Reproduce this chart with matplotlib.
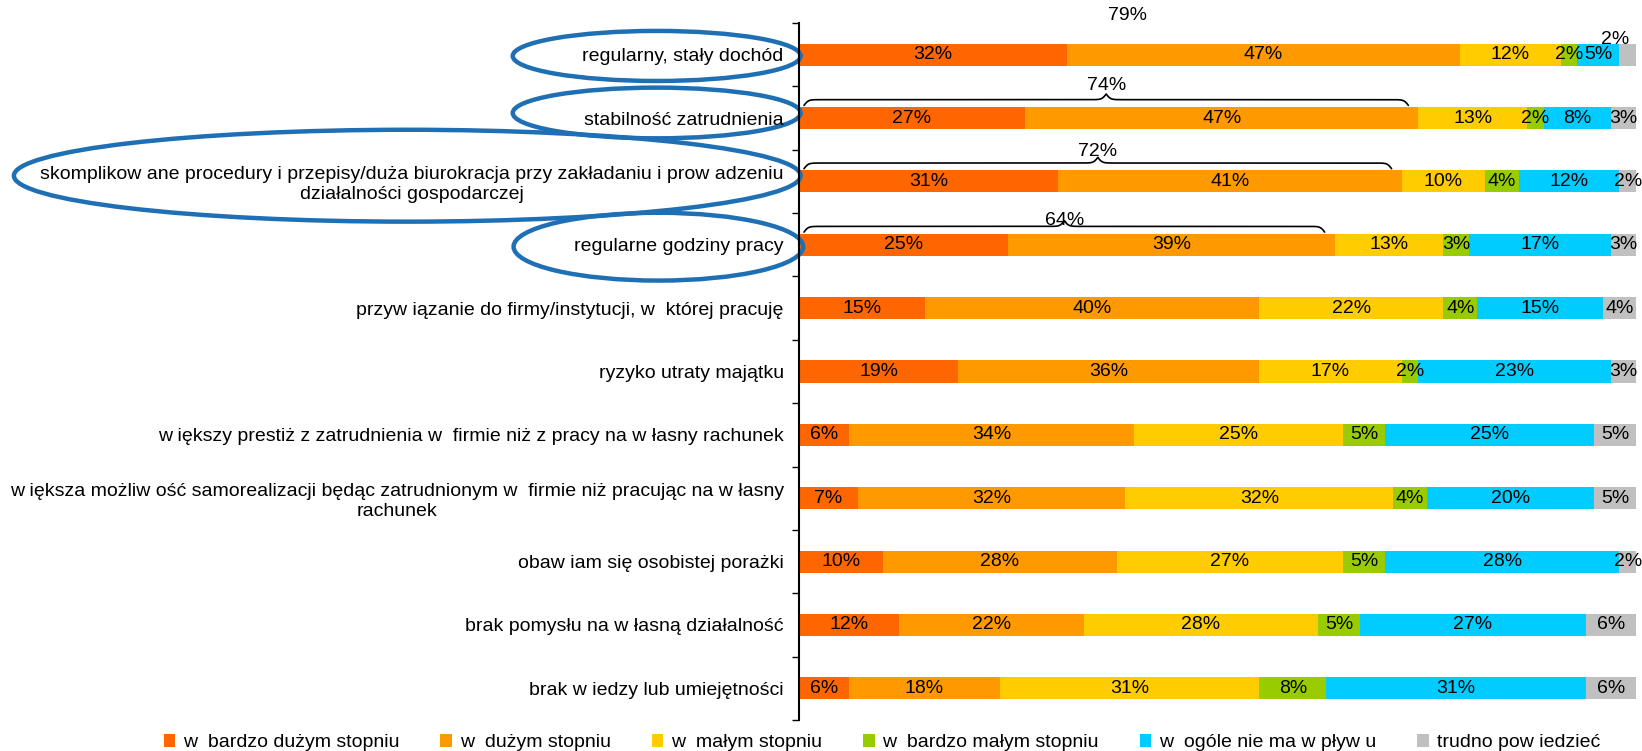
import numpy as np
import matplotlib.pyplot as plt
from matplotlib.patches import Ellipse
from matplotlib.transforms import blended_transform_factory

plt.rcParams['font.family'] = ['Liberation Sans', 'DejaVu Sans']

# ---Data (percent of answers)
categories = [
    'regularny, stały dochód',
    'stabilność zatrudnienia',
    'skomplikow ane procedury i przepisy/duża biurokracja przy zakładaniu i prow adzeniu\ndziałalności gospodarczej',
    'regularne godziny pracy',
    'przyw iązanie do firmy/instytucji, w  której pracuję',
    'ryzyko utraty majątku',
    'w iększy prestiż z zatrudnienia w  firmie niż z pracy na w łasny rachunek',
    'w iększa możliw ość samorealizacji będąc zatrudnionym w  firmie niż pracując na w łasny\nrachunek',
    'obaw iam się osobistej porażki',
    'brak pomysłu na w łasną działalność',
    'brak w iedzy lub umiejętności',
]
series_names = ['w  bardzo dużym stopniu', 'w  dużym stopniu', 'w  małym stopniu',
                'w  bardzo małym stopniu', 'w  ogóle nie ma w pływ u', 'trudno pow iedzieć']
bardzo_duzy = [32, 27, 31, 25, 15, 19, 6, 7, 10, 12, 6]
duzy = [47, 47, 41, 39, 40, 36, 34, 32, 28, 22, 18]
maly = [12, 13, 10, 13, 22, 17, 25, 32, 27, 28, 31]
bardzo_maly = [2, 2, 4, 3, 4, 2, 5, 4, 5, 5, 8]
brak_wplywu = [5, 8, 12, 17, 15, 23, 25, 20, 28, 27, 31]
trudno = [2, 3, 2, 3, 4, 3, 5, 5, 2, 6, 6]
colors = ['#FF6600', '#FF9900', '#FFCC00', '#99CC00', '#00CCFF', '#C0C0C0']

# ---Rows with the summed "large influence" total and circled label
summed_rows = [0, 1, 2, 3]
brace_rows = [1, 2, 3]
sum_label_offset = [0.62, 0.52, 0.47, 0.39]

series = [bardzo_duzy, duzy, maly, bardzo_maly, brak_wplywu, trudno]
data = np.array(series, dtype=float)
starts = np.vstack([np.zeros(len(categories)), np.cumsum(data, axis=0)[:-1]])
y = np.arange(len(categories))
bar_h = 0.35
fs = 14.0

fig = plt.figure(figsize=(16.42, 7.51), dpi=100)
ax = fig.add_axes([799 / 1642, 31 / 751, 837 / 1642, 697 / 751])

for i, (vals, left) in enumerate(zip(data, starts)):
    ax.barh(y, vals, left=left, height=bar_h, color=colors[i],
            label=series_names[i], linewidth=0)
    for row in y:
        txt = f'{int(vals[row])}%'
        if i == len(series) - 1 and row == 0:
            # last small segment of the first bar: label above the bar
            ax.text(99.2, row - bar_h / 2 + 0.07, txt, ha='right', va='bottom',
                    fontsize=fs)
        else:
            ax.text(left[row] + vals[row] / 2, row, txt, ha='center',
                    va='center', fontsize=fs)


def draw_brace(ax, x0, x1, y_end, y_tip):
    n = 201
    xs = np.linspace(x0, x1, 2 * n - 1)
    half = xs[:n]
    beta = 4.0
    f = (1 / (1 + np.exp(-beta * (half - half[0])))
         + 1 / (1 + np.exp(-beta * (half - half[-1])))) - 0.5
    f = np.concatenate([f, f[-2::-1]])
    ax.plot(xs, y_end + f * (y_tip - y_end), color='black', lw=1.2,
            solid_capstyle='round', clip_on=False)


for k, row in enumerate(summed_rows):
    total = bardzo_duzy[row] + duzy[row]
    x0, x1 = 0.6, total - 1.2
    if row in brace_rows:
        draw_brace(ax, x0, x1, row - 0.2, row - 0.38)
    ax.text((x0 + x1) / 2, row - sum_label_offset[k], f'{total}%',
            ha='center', va='center', fontsize=fs)

ax.set_xlim(0, 100)
ax.set_ylim(len(categories) - 0.5, -0.5)
ax.set_yticks(np.arange(-0.5, len(categories)), minor=False)
ax.set_yticklabels([])
ax.set_yticks(y, minor=True)
ax.set_yticklabels(categories, minor=True, fontsize=fs, multialignment='center')
ax.tick_params(axis='y', which='major', length=5, width=1, direction='out')
ax.tick_params(axis='y', which='minor', length=0, pad=11)
ax.set_xticks([])
for side in ['top', 'right', 'bottom']:
    ax.spines[side].set_visible(False)
ax.spines['left'].set_linewidth(1.5)

# ---Blue ellipses around the highlighted labels
tr = blended_transform_factory(ax.transAxes, ax.transData)
ellipses = [(-0.170, 0.02, 0.344, 0.79), (-0.170, 0.92, 0.344, 0.80),
            (-0.468, 1.91, 0.940, 1.45), (-0.168, 3.03, 0.346, 1.07)]
for cx, cy, w, h in ellipses:
    ax.add_patch(Ellipse((cx, cy), w, h, transform=tr, fill=False,
                         edgecolor='#1F6FB5', lw=3.2, clip_on=False))

fig.legend(loc='center', bbox_to_anchor=(0.537, 0.011), ncol=6, frameon=False,
           fontsize=fs, handlelength=0.6, handleheight=0.6, handletextpad=0.4,
           columnspacing=2.1, borderpad=0)

fig.savefig('out.png', dpi=100)
